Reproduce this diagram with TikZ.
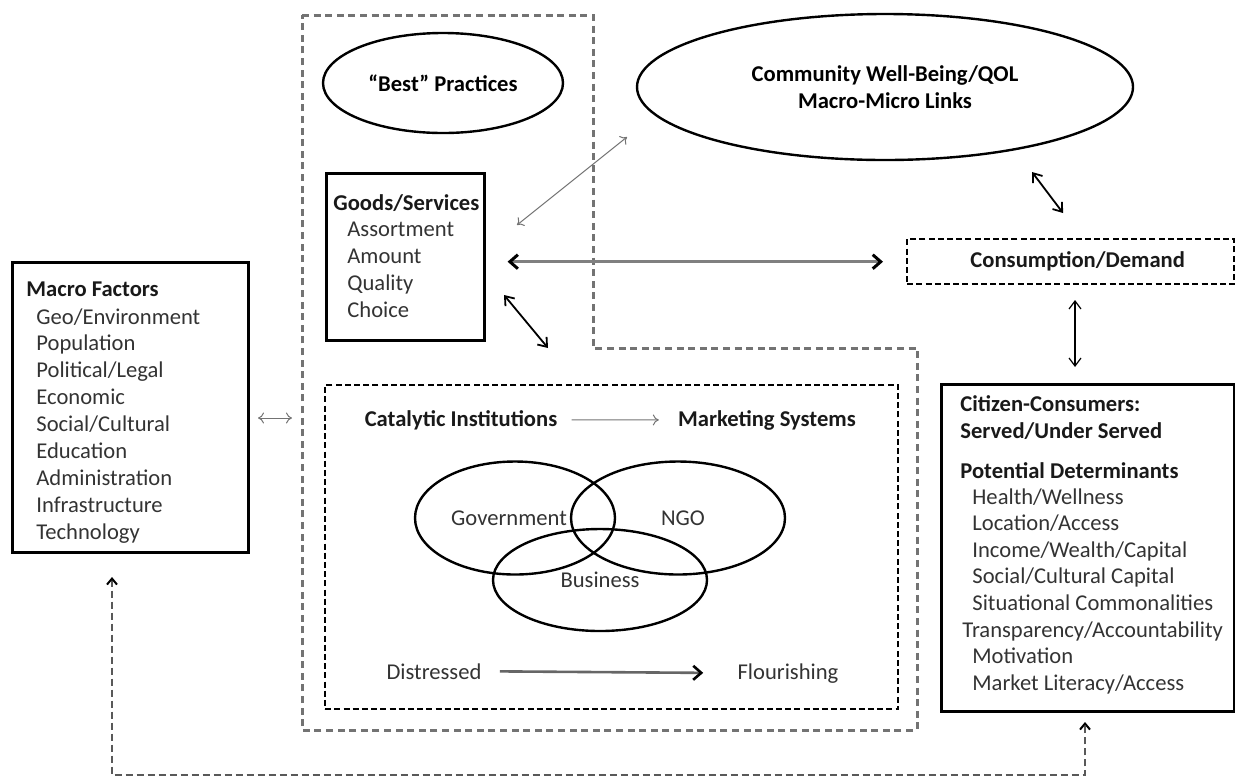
\documentclass[tikz,border=0pt]{standalone}
\usepackage{fontspec}
\setmainfont{Carlito}
\usetikzlibrary{arrows.meta,shapes.geometric}

\newcommand{\figfont}{\fontsize{11.3}{13.5}\selectfont}

\tikzset{
  solidbox/.style={draw, line width=1.3pt, inner sep=0pt, anchor=north west},
  dashbox/.style={draw, dash pattern=on 3pt off 1.6pt, line width=1.1pt, inner sep=0pt, anchor=north west},
  oval/.style={draw, ellipse, line width=1.2pt, inner sep=0pt},
  headtext/.style={font=\figfont\bfseries, text=black!90, inner sep=0pt, anchor=base west},
  itemtext/.style={font=\figfont, text=black!80, inner sep=0pt, anchor=base west},
  thinlink/.style={draw=black!55, line width=0.5pt, {To[length=3pt,width=5.5pt]}-{To[length=3pt,width=5.5pt]}},
  blacklink/.style={draw=black, line width=0.9pt, {Straight Barb[length=4pt,width=6pt]}-{Straight Barb[length=4pt,width=6pt]}},
  greylink/.style={draw=black!50, line width=1.5pt, {Straight Barb[length=4pt,width=7pt,color=black]}-{Straight Barb[length=4pt,width=7pt,color=black]}},
  fbline/.style={draw=black!65, line width=1pt, dash pattern=on 3.5pt off 2pt, {Straight Barb[length=3pt,width=5pt,color=black]}-{Straight Barb[length=3pt,width=5pt,color=black]}}
}

\begin{document}
\begin{tikzpicture}[x=0.5pt,y=-0.5pt]

\path [use as bounding box] (0,0) rectangle (1235,778);

% MACRO FACTORS
\node [solidbox, line width=1.4pt, minimum width=118pt, minimum height=145pt] (macro) at (11,261) {};
\node [headtext] (macro-head) at (26,296) {Macro Factors};
\foreach \t [count=\i from 0] in {Geo/Environment,Population,Political/Legal,Economic,Social/Cultural,Education,Administration,Infrastructure,Technology}
  \node [itemtext] (macro-\i) at (36,{324+26.9*\i}) {\t};

% SYSTEM REGION
\draw [draw=black!55, line width=1.5pt, dash pattern=on 3.5pt off 2.3pt]
  (302,15) -- (593,15) -- (593,348) -- (917,348) -- (917,730) -- (302,730) -- cycle;

\node [oval, minimum width=120pt, minimum height=50pt, font=\figfont\bfseries] (best) at (443,83) {“Best” Practices};

\node [solidbox, minimum width=79pt, minimum height=83.5pt] (goods) at (325,172) {};
\node [headtext] (goods-head) at (333,210) {Goods/Services};
\foreach \t [count=\i from 0] in {Assortment,Amount,Quality,Choice}
  \node [itemtext] (goods-\i) at (347,{236+27*\i}) {\t};

\node [dashbox, minimum width=286.5pt, minimum height=162pt] (inner) at (324,384) {};
\node [headtext, anchor=base] (catalytic) at (461,426) {Catalytic Institutions};
\node [headtext, anchor=base] (marketing) at (767,426) {Marketing Systems};
\draw [draw=black!55, line width=0.5pt, -{To[length=3pt,width=5.5pt]}, shorten <=7pt, shorten >=9.5pt] (catalytic.east) -- (marketing.west);

% VENN
\node [oval, minimum width=100pt, minimum height=56.5pt, font=\figfont, text=black!80] (gov) at (515,518) {\hspace*{-6pt}Government};
\node [oval, minimum width=107pt, minimum height=56.5pt, font=\figfont, text=black!80] (ngo) at (678,518) {\hspace*{5pt}NGO};
\node [oval, minimum width=107pt, minimum height=51pt, font=\figfont, text=black!80] (biz) at (600,580) {Business};

\node [itemtext, anchor=base] (distressed) at (434,679) {Distressed};
\node [itemtext, anchor=base] (flourishing) at (788,679) {Flourishing};
\draw [draw=black!60, line width=1.3pt, -{Straight Barb[length=4pt,width=7pt,color=black]}, shorten <=9pt, shorten >=17pt] (distressed.east) -- (flourishing.west);

% COMMUNITY AND CONSUMERS
\node [oval, minimum width=248pt, minimum height=73pt, font=\figfont\bfseries, align=center] (community) at (885,87) {Community Well-Being/QOL\\Macro-Micro Links};

\node [dashbox, line width=1.2pt, minimum width=163.5pt, minimum height=22.5pt, font=\figfont\bfseries, text=black!90] (consumption) at (906,238) {\hspace*{7pt}Consumption/Demand};

\node [solidbox, line width=1.5pt, minimum width=146.5pt, minimum height=163.5pt] (citizen) at (940,383) {};
\node [headtext] (citizen-head1) at (960,411) {Citizen-Consumers:};
\node [headtext] (citizen-head2) at (960,438) {Served/Under Served};
\node [headtext] (citizen-head3) at (960,478) {Potential Determinants};
\foreach \t [count=\i from 0] in {Health/Wellness,Location/Access,Income/Wealth/Capital,Social/Cultural Capital,Situational Commonalities}
  \node [itemtext] (citizen-\i) at (972,{504+26.5*\i}) {\t};
\node [itemtext] (citizen-5) at (962,637) {Transparency/Accountability};
\node [itemtext] (citizen-6) at (972,663) {Motivation};
\node [itemtext] (citizen-7) at (972,690) {Market Literacy/Access};

% LINKS
\coordinate (macro-link) at (258,418);
\coordinate (region-link) at (292,418);
\draw [thinlink] (macro-link) -- (region-link);

\coordinate (goods-up) at (517,225);
\coordinate (community-low) at (627,137);
\draw [thinlink] (goods-up) -- (community-low);

\draw [greylink, shorten <=11pt, shorten >=11.5pt] (consumption.west -| goods.east) -- (consumption.west);

\coordinate (goods-low) at (504,295);
\coordinate (inner-top) at (548,348);
\draw [blacklink] (goods-low) -- (inner-top);

\coordinate (community-right) at (1032,172);
\coordinate (consumption-top) at (1063,213);
\draw [blacklink] (community-right) -- (consumption-top);

\coordinate (consumption-low) at (1075,300);
\coordinate (citizen-top) at (1075,367);
\draw [blacklink, line width=0.6pt] (consumption-low) -- (citizen-top);

% FEEDBACK
\coordinate (macro-fb) at (112,577);
\coordinate (citizen-fb) at (1085,722);
\draw [fbline] (macro-fb) -- (macro-fb |- 0,775) -- (citizen-fb |- 0,775) -- (citizen-fb);

\end{tikzpicture}
\end{document}
